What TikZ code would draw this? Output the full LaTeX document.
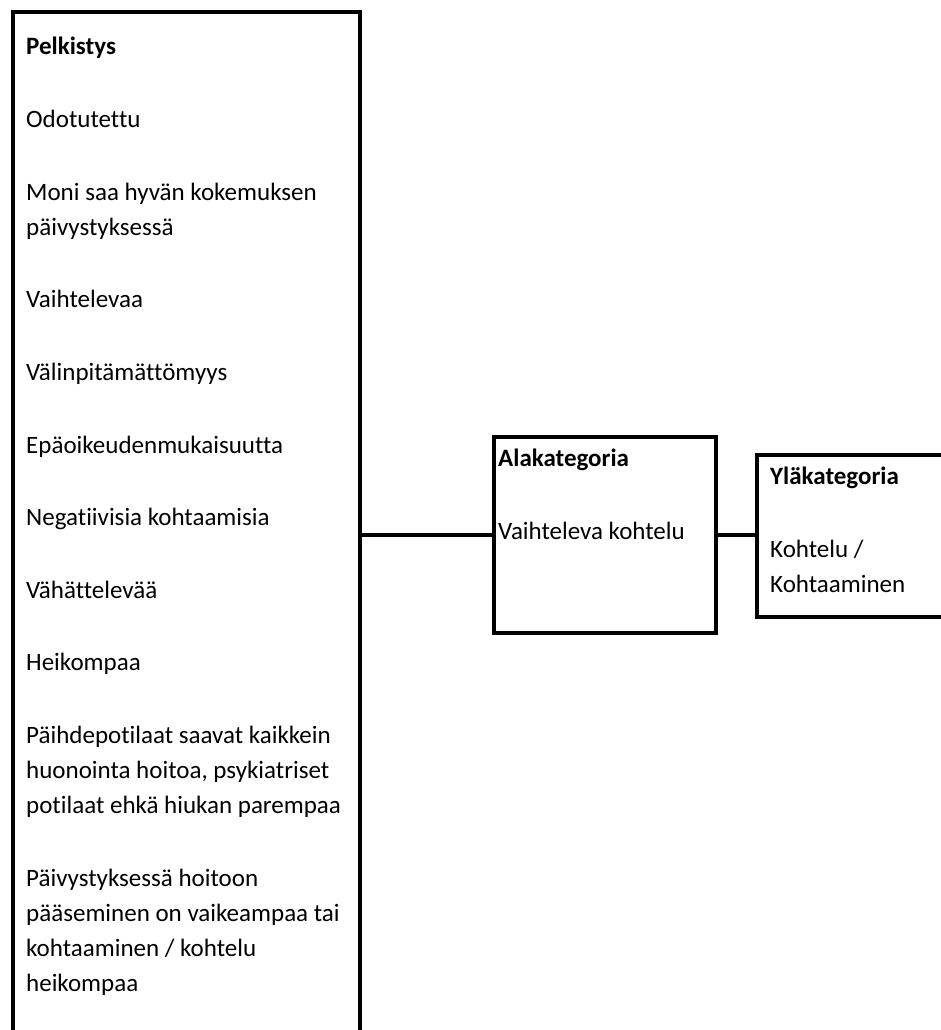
\documentclass[tikz,border=0pt]{standalone}
\usepackage{fontspec}
\setmainfont{Carlito}[Ligatures=NoCommon]
\usetikzlibrary{positioning}
\tikzset{
  box/.style={draw, line width=4.5pt, anchor=north west,
              inner sep=0pt, outer sep=0pt},
  txt/.style={anchor=base west, align=left, inner sep=0pt,
              font=\fontsize{25}{35}\selectfont},
  con/.style={line width=4.5pt}
}
\begin{document}
\begin{tikzpicture}[x=1pt,y=-1pt]
  \useasboundingbox (0,0) rectangle (941,1030);
  \clip (0,0) rectangle (941,1030);
  % boxes
  \node[box,minimum width=347pt,minimum height=1048pt] (pelk) at (13,12) {};
  \node[box,minimum width=222pt,minimum height=196pt]  (ala)  at (494,437) {};
  \node[box,minimum width=200pt,minimum height=162pt]  (yla)  at (757,455) {};

  % pelkistys (multi-line nodes sit on their last baseline)
  \node[txt] (pelkHead) at (26,55)    {\textbf{Pelkistys}};
  \node[txt] (pelk1)  at (26,127.6) {Odotutettu};
  \node[txt] (pelk2)  at (26,235.2) {Moni saa hyvän kokemuksen\\päivystyksessä};
  \node[txt] (pelk3)  at (26,307.8) {Vaihtelevaa};
  \node[txt] (pelk4)  at (26,380.4) {Välinpitämättömyys};
  \node[txt] (pelk5)  at (26,453)   {Epäoikeudenmukaisuutta};
  \node[txt] (pelk6)  at (26,525.6) {Negatiivisia kohtaamisia};
  \node[txt] (pelk7)  at (26,598.2) {Vähättelevää};
  \node[txt] (pelk8)  at (26,670.8) {Heikompaa};
  \node[txt] (pelk9)  at (26,813.4) {Päihdepotilaat saavat kaikkein\\huonointa hoitoa, psykiatriset\\potilaat ehkä hiukan parempaa};
  \node[txt] (pelk10) at (26,991)   {Päivystyksessä hoitoon\\pääseminen on vaikeampaa tai\\kohtaaminen / kohtelu\\heikompaa};

  % ala- ja yläkategoria
  \node[txt] (alaHead) at (498,466) {\textbf{Alakategoria}};
  \node[txt] (alaTxt)  at (498,539) {Vaihteleva kohtelu};
  \node[txt] (ylaHead) at (770,484) {\textbf{Yläkategoria}};
  \node[txt] (ylaTxt)  at (770,592) {Kohtelu /\\Kohtaaminen};

  \draw[con] (pelk.east |- ala.west) -- (ala.west);
  \draw[con] (ala.east) -- (ala.east -| yla.west);
\end{tikzpicture}
\end{document}
